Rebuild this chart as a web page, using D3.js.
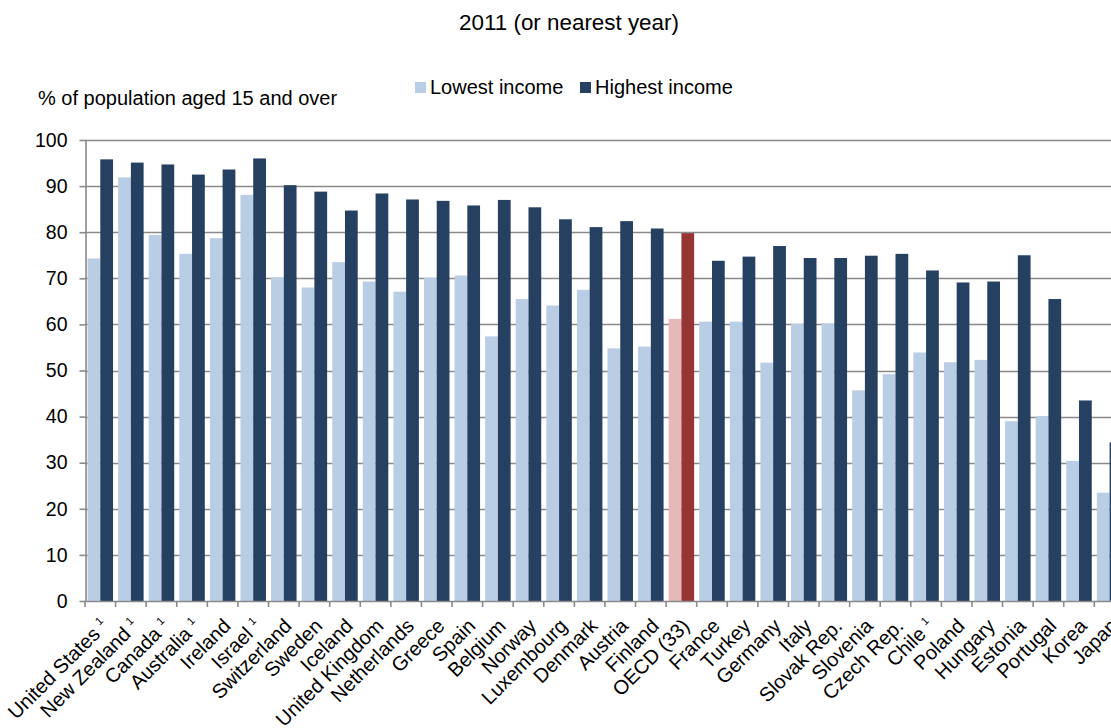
<!DOCTYPE html>
<html>
<head>
<meta charset="utf-8">
<script src="https://cdn.jsdelivr.net/npm/d3@7"></script>
<style>
  html, body { margin: 0; padding: 0; background: #fff; }
  svg { display: block; font-family: "Liberation Sans", Arial, Helvetica, sans-serif; }
</style>
</head>
<body>
<svg id="chart" width="1111" height="728"></svg>
<script>
const categories = ["United States", "New Zealand", "Canada", "Australia", "Ireland", "Israel", "Switzerland", "Sweden", "Iceland", "United Kingdom", "Netherlands", "Greece", "Spain", "Belgium", "Norway", "Luxembourg", "Denmark", "Austria", "Finland", "OECD (33)", "France", "Turkey", "Germany", "Italy", "Slovak Rep.", "Slovenia", "Czech Rep.", "Chile", "Poland", "Hungary", "Estonia", "Portugal", "Korea", "Japan"];
const footnoted = ["United States", "New Zealand", "Canada", "Australia", "Israel", "Chile"];
const lowestIncome = [74.3, 91.9, 79.4, 75.3, 78.7, 88.1, 70.2, 68.0, 73.5, 69.3, 67.1, 70.1, 70.6, 57.4, 65.5, 64.1, 67.5, 54.8, 55.2, 61.2, 60.6, 60.6, 51.7, 60.1, 60.2, 45.7, 49.2, 53.9, 51.8, 52.3, 39.0, 40.1, 30.4, 23.5];
const highestIncome = [95.8, 95.1, 94.7, 92.5, 93.6, 96.0, 90.2, 88.8, 84.7, 88.4, 87.1, 86.8, 85.8, 87.0, 85.4, 82.8, 81.1, 82.4, 80.8, 79.8, 73.8, 74.7, 77.0, 74.4, 74.4, 74.9, 75.3, 71.7, 69.1, 69.3, 75.0, 65.5, 43.5, 34.4];
const seriesNames = ["Lowest income", "Highest income"];
const yTicks = [0, 10, 20, 30, 40, 50, 60, 70, 80, 90, 100];
const highlight = "OECD (33)";

const colors = { low: "#B9CDE5", high: "#254061", lowHi: "#E6B9B8", highHi: "#963634" };

const svg = d3.select("#chart");
const plotLeft = 85, plotTop = 140, plotBottom = 601, step = 30.585;
const plotRight = plotLeft + step * categories.length;

const x = d3.scaleBand().domain(categories).range([plotLeft, plotRight]).paddingInner(0).paddingOuter(0);
const xs = d3.scaleBand().domain(["low", "high"]).range([0, x.bandwidth()]).paddingInner(0).paddingOuter(0.2);
const y = d3.scaleLinear().domain([0, 100]).range([plotBottom, plotTop]);

// gridlines
svg.append("g").selectAll("line").data(yTicks.filter(d => d > 0)).join("line")
  .attr("x1", plotLeft).attr("x2", 1111)
  .attr("y1", d => Math.round(y(d)) + 0.5).attr("y2", d => Math.round(y(d)) + 0.5)
  .attr("stroke", "#8a8a8a").attr("stroke-width", 1.6);

// bars
const data = categories.map((c, i) => ({ c, low: lowestIncome[i], high: highestIncome[i] }));
const groups = svg.append("g").selectAll("g").data(data).join("g")
  .attr("transform", d => `translate(${x(d.c)},0)`);
groups.append("rect")
  .attr("x", xs("low")).attr("width", xs.bandwidth())
  .attr("y", d => y(d.low)).attr("height", d => y(0) - y(d.low))
  .attr("fill", d => d.c === highlight ? colors.lowHi : colors.low);
groups.append("rect")
  .attr("x", xs("high")).attr("width", xs.bandwidth())
  .attr("y", d => y(d.high)).attr("height", d => y(0) - y(d.high))
  .attr("fill", d => d.c === highlight ? colors.highHi : colors.high);

// y axis
const yAxis = svg.append("g").attr("transform", `translate(${plotLeft + 0.5},0)`)
  .call(d3.axisLeft(y).tickValues(yTicks).tickSize(6).tickPadding(12).tickSizeOuter(0));
yAxis.select(".domain").attr("stroke", "#8a8a8a").attr("stroke-width", 1.6);
yAxis.selectAll(".tick line").attr("stroke", "#8a8a8a").attr("stroke-width", 1.6);
yAxis.selectAll(".tick text").attr("font-size", 19.5).attr("fill", "#000")
  .attr("font-family", '"Liberation Sans", Arial, sans-serif');

// x axis line and boundary ticks
svg.append("line").attr("x1", plotLeft).attr("x2", 1111).attr("y1", plotBottom + 0.5).attr("y2", plotBottom + 0.5)
  .attr("stroke", "#8a8a8a").attr("stroke-width", 1.6);
svg.append("g").selectAll("line").data(d3.range(categories.length + 1)).join("line")
  .attr("x1", i => plotLeft + i * step).attr("x2", i => plotLeft + i * step)
  .attr("y1", plotBottom).attr("y2", plotBottom + 6)
  .attr("stroke", "#8a8a8a").attr("stroke-width", 1.6);

// x labels
const lbl = svg.append("g").selectAll("text").data(categories).join("text")
  .attr("transform", d => `translate(${x(d) + x.bandwidth() / 2},618) rotate(-45)`)
  .attr("text-anchor", "end").attr("dy", 13).attr("font-size", 20).attr("fill", "#000");
lbl.each(function(d) {
  const t = d3.select(this);
  t.append("tspan").text(d);
  if (footnoted.includes(d)) {
    t.append("tspan").text(" ");
    t.append("tspan").attr("font-size", 11).attr("dy", -8).text("1");
  }
});

// y-axis title
svg.append("text").attr("x", 38).attr("y", 105).attr("font-size", 20).attr("fill", "#000")
  .text("% of population aged 15 and over");

// title
svg.append("text").attr("x", 569).attr("y", 30).attr("text-anchor", "middle")
  .attr("font-size", 22.4).attr("fill", "#000").text("2011 (or nearest year)");

// legend
const legend = svg.append("g");
const legX = [415, 580];
seriesNames.forEach((s, i) => {
  legend.append("rect").attr("x", legX[i]).attr("y", 82).attr("width", 11).attr("height", 11)
    .attr("fill", i === 0 ? colors.low : colors.high);
  legend.append("text").attr("x", legX[i] + 15).attr("y", 93.5).attr("font-size", 20)
    .attr("fill", "#000").text(s);
});
</script>
</body>
</html>
